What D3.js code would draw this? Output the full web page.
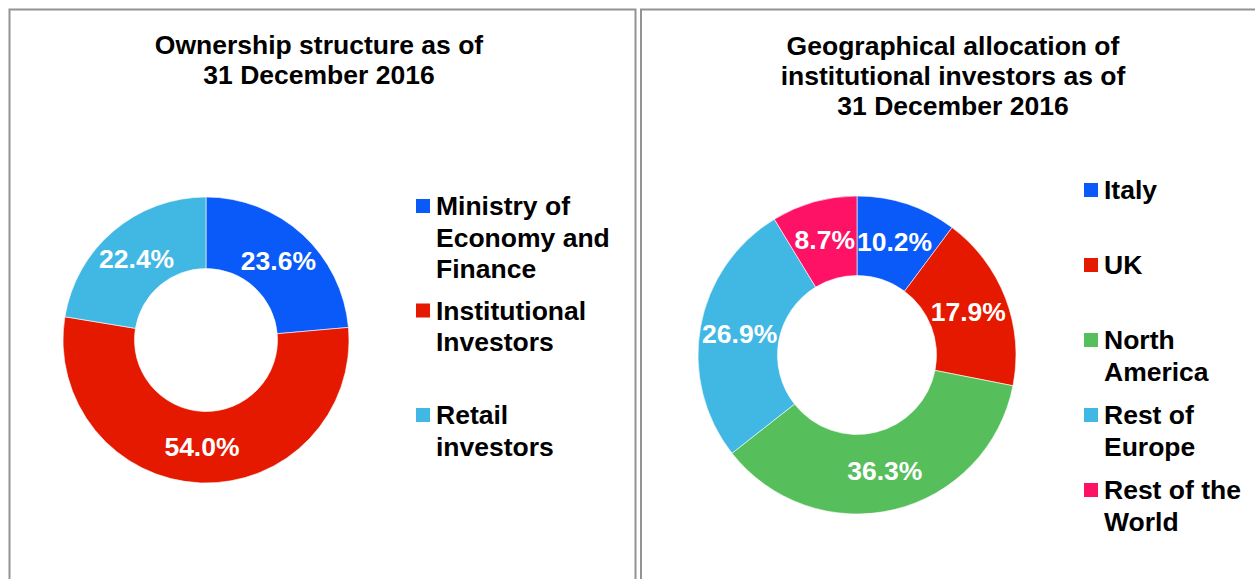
<!DOCTYPE html>
<html lang="en">
<head>
<meta charset="UTF-8">
<title>Ownership structure and geographical allocation</title>
<script src="https://cdn.jsdelivr.net/npm/d3@7"></script>
<style>
  body { margin: 0; background: #fff; }
  svg text { font-family: "Liberation Sans", Arial, Helvetica, sans-serif; font-weight: bold; }
</style>
</head>
<body>
<svg id="mainsvg" width="1255" height="579"></svg>
<script>
// ---- data ----
const ownershipTitle = ["Ownership structure as of", "31 December 2016"];
const ownershipCategories = ["Ministry of Economy and Finance", "Institutional Investors", "Retail investors"];
const ownershipLegend = [["Ministry of", "Economy and", "Finance"], ["Institutional", "Investors"], ["Retail", "investors"]];
const ownershipValues = [23.6, 54.0, 22.4];
const ownershipColors = ["#0a5afa", "#e51800", "#41b8e4"];

const geoTitle = ["Geographical allocation of", "institutional investors as of", "31 December 2016"];
const geoCategories = ["Italy", "UK", "North America", "Rest of Europe", "Rest of the World"];
const geoLegend = [["Italy"], ["UK"], ["North", "America"], ["Rest of", "Europe"], ["Rest of the", "World"]];
const geoValues = [10.2, 17.9, 36.3, 26.9, 8.7];
const geoColors = ["#0a5afa", "#e51800", "#57be5c", "#41b8e4", "#fd1266"];

const svg = d3.select('#mainsvg');
const FONT = 26.5;

// panel borders
const border = "#939393";
svg.append('path')
    .attr('d', 'M9.5,600 V9.5 H635.5 V600')
    .attr('fill', 'none').attr('stroke', border).attr('stroke-width', 2);
svg.append('path')
    .attr('d', 'M641,600 V9.5 H1260')
    .attr('fill', 'none').attr('stroke', border).attr('stroke-width', 2);

function drawDonut(opt) {
    const g = svg.append('g');

    // title
    g.append('g').selectAll('text').data(opt.title).join('text')
        .attr('x', opt.titleX)
        .attr('y', (d, i) => opt.titleY + i * 30)
        .attr('dy', '0.35em')
        .attr('text-anchor', 'middle')
        .attr('font-size', FONT)
        .attr('fill', '#000')
        .text(d => d);

    const pie = d3.pie().sort(null).value(d => d.value);
    const arcs = pie(opt.values.map((v, i) => ({ name: opt.categories[i], value: v, color: opt.colors[i] })));
    const arc = d3.arc().innerRadius(opt.inner).outerRadius(opt.outer);

    const chart = g.append('g').attr('transform', `translate(${opt.cx},${opt.cy})`);
    chart.selectAll('path').data(arcs).join('path')
        .attr('d', arc)
        .attr('fill', d => d.data.color)
        .attr('stroke', '#fff')
        .attr('stroke-width', 0.6);

    chart.selectAll('text').data(arcs).join('text')
        .attr('transform', d => `translate(${arc.centroid(d)})`)
        .attr('dy', '0.35em')
        .attr('text-anchor', 'middle')
        .attr('font-size', FONT)
        .attr('fill', '#fff')
        .text(d => d.data.value.toFixed(1) + '%');

    // legend
    const legend = g.append('g');
    const item = legend.selectAll('g').data(opt.legend).join('g')
        .attr('transform', (d, i) => `translate(${opt.legendX},${opt.legendY + i * opt.legendStep})`);
    item.append('rect')
        .attr('x', 0).attr('y', -7)
        .attr('width', 14).attr('height', 14)
        .attr('fill', (d, i) => opt.colors[i]);
    item.selectAll('text').data(d => d).join('text')
        .attr('x', 20)
        .attr('y', (d, i) => i * 31.5)
        .attr('dy', '0.35em')
        .attr('font-size', FONT)
        .attr('fill', '#000')
        .text(d => d);
}

drawDonut({
    title: ownershipTitle, titleX: 319, titleY: 45,
    categories: ownershipCategories, values: ownershipValues, colors: ownershipColors,
    cx: 206, cy: 340, outer: 143, inner: 71.5,
    legend: ownershipLegend, legendX: 416, legendY: 206, legendStep: 104.5
});

drawDonut({
    title: geoTitle, titleX: 953, titleY: 46,
    categories: geoCategories, values: geoValues, colors: geoColors,
    cx: 857, cy: 355, outer: 159, inner: 79.5,
    legend: geoLegend, legendX: 1084, legendY: 190, legendStep: 75
});
</script>
</body>
</html>
